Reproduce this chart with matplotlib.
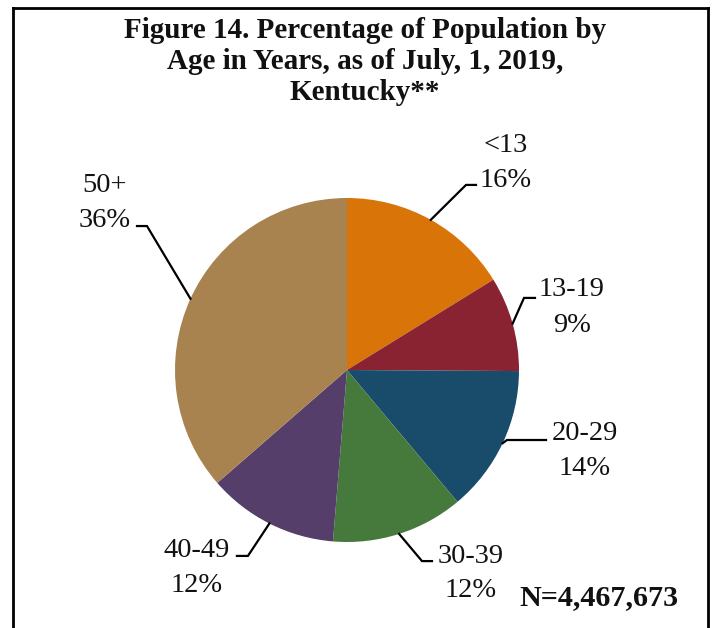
import numpy as np
from matplotlib import pyplot as plt
from matplotlib.lines import Line2D

plt.rcParams['font.family'] = ['Liberation Serif', 'DejaVu Serif']

# data
groups  = ['<13', '13-19', '20-29', '30-39', '40-49', '50+']
percent = [16.2, 8.9, 13.8, 12.4, 12.3, 36.4]
colors  = ['#D97409', '#8A2331', '#194B6B', '#467A3C', '#553F6A', '#A8834F']
total_n = '4,467,673'

# label layout (pie radius units, centre of pie = 0,0)
# x centre of text, baseline of group line, baseline of percent line
text_x    = [0.924, 1.308, 1.384, 0.721, -0.872, -1.407]
text_y1   = [1.267, 0.430, -0.407, -1.122, -1.087, 1.035]
text_y2   = [1.064, 0.221, -0.610, -1.320, -1.291, 0.831]
elbow_pos = [(0.692, 1.076), (1.029, 0.419), (0.93, -0.407),
             (0.436, -1.111), (-0.576, -1.081), (-1.163, 0.837)]
end_pos   = [(0.750, 1.076), (1.093, 0.419), (1.157, -0.407),
             (0.494, -1.111), (-0.640, -1.081), (-1.221, 0.837)]

W, H = 713, 628
cx, cy, R = 347, 370, 172

fig = plt.figure(figsize=(W/100, H/100), dpi=100)
ax = fig.add_axes([0, 0, 1, 1])

wedges, _ = ax.pie(percent, colors=colors, startangle=90, counterclock=False,
                   radius=1, wedgeprops=dict(linewidth=0))
ax.set_aspect('auto')
ax.set_xlim(-cx/R, (W-cx)/R)
ax.set_ylim((cy-H)/R, cy/R)
ax.axis('off')

for i, w in enumerate(wedges):
    mid = np.deg2rad((w.theta1 + w.theta2) / 2)
    sx, sy = np.cos(mid), np.sin(mid)
    ex, ey = elbow_pos[i]
    fx, fy = end_pos[i]
    ax.plot([sx, ex, fx], [sy, ey, fy], color='k', lw=1.6, solid_joinstyle='miter')
    ax.text(text_x[i], text_y1[i], groups[i], ha='center', va='baseline',
            fontsize=20.5, color='#111111')
    ax.text(text_x[i], text_y2[i], '{:.0f}%'.format(percent[i]), ha='center',
            va='baseline', fontsize=20.5, color='#111111')

# title
title_lines = ['Figure 14. Percentage of Population by',
               'Age in Years, as of July, 1, 2019,',
               'Kentucky**']
for k, t in enumerate(title_lines):
    fig.text(365/W, 1 - (38 + 31*k)/H, t, ha='center', va='baseline',
             fontsize=21, fontweight='bold', color='#111111')

fig.text(519/W, 1 - 605/H, 'N=' + total_n, ha='left', va='baseline',
         fontsize=21.7, fontweight='bold', color='#111111')

# frame
lw = 2
fig.add_artist(Line2D([13/W, 13/W], [0, 1 - 8/H], color='k', lw=lw, transform=fig.transFigure))
fig.add_artist(Line2D([708/W, 708/W], [0, 1 - 8/H], color='k', lw=lw, transform=fig.transFigure))
fig.add_artist(Line2D([13/W, 708/W], [1 - 8/H, 1 - 8/H], color='k', lw=lw, transform=fig.transFigure))

plt.savefig('out.png', dpi=100)
